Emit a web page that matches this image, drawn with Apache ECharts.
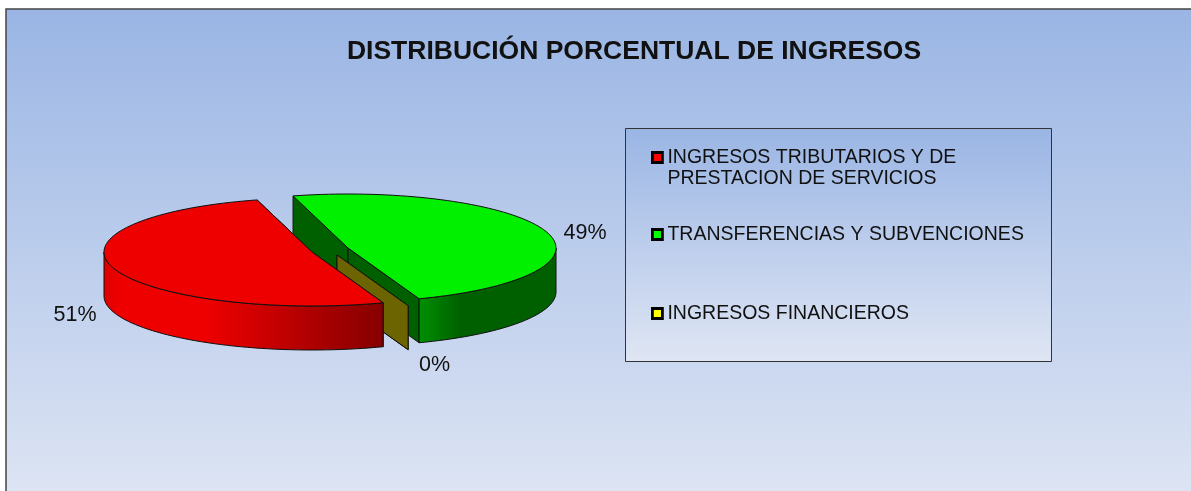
<!DOCTYPE html>
<html><head><meta charset="utf-8">
<style>html,body{margin:0;padding:0;background:#fff}#c{width:1191px;height:491px}</style>
<script src="https://cdn.jsdelivr.net/npm/echarts@6/dist/echarts.min.js"></script>
</head><body><div id="c"></div>
<script>
const titleText = 'DISTRIBUCIÓN PORCENTUAL DE INGRESOS';
const categories = ['INGRESOS TRIBUTARIOS Y DE\nPRESTACION DE SERVICIOS', 'TRANSFERENCIAS Y SUBVENCIONES', 'INGRESOS FINANCIEROS'];
const values = [51.3, 48.7, 0];
const labels = ['51%', '49%', '0%'];

const FONT = '"Liberation Sans", Arial, sans-serif';
const firstAngle = 160, A = 208, B = 54, DEPTH = 44;
const centres = [[312, 252], [348, 248], [337, 255]];
const labelPos = [[75, 315], [585, 233], [434.5, 365]];
const topCol = ['#ee0000', '#00f000', '#eeee00'];
const legendCol = ['#ff0000', '#00ff00', '#ffff00'];
const sideCol = ['#8a0000', '#006000', '#6b6400'];
const wallStops = [
  [[0, '#dd0000'], [0.05, '#ee0000'], [0.36, '#ee0000'], [0.55, '#d00000'], [0.73, '#b00000'], [1, '#860000']],
  [[0, '#009000'], [0.3, '#006000'], [1, '#006000']],
  [[0, '#6b6400'], [1, '#6b6400']]
];
const legendTops = [126, 224, 303];
const drawOrder = [1, 2, 0];

const total = values.reduce((s, v) => s + v, 0);
const startAngles = values.map((_, i) => firstAngle + values.slice(0, i).reduce((s, v) => s + v, 0) / total * 360);

function pt(i, deg, drop) {
  const r = deg * Math.PI / 180, c = centres[i];
  return [c[0] + A * Math.sin(r), c[1] - B * Math.cos(r) + (drop || 0)];
}
function arc(i, from, to, drop) {
  const out = [], n = Math.max(1, Math.ceil(Math.abs(to - from) / 2));
  for (let k = 0; k <= n; k++) out.push(pt(i, from + (to - from) * k / n, drop));
  return out;
}
const edge = { stroke: '#111', lineWidth: 1 };

function renderSlice(i, val) {
  const from = startAngles[i], to = from + val / total * 360;
  const c = centres[i], kids = [];
  const poly = (points, fill, z2) => kids.push({ type: 'polygon', z2, shape: { points }, style: Object.assign({ fill }, edge) });
  const radial = (ang, z2) => {
    const p = pt(i, ang);
    poly([c, p, [p[0], p[1] + DEPTH], [c[0], c[1] + DEPTH]], sideCol[i], z2);
  };
  radial(from, 1);
  radial(to, 1);
  // visible part of the outer rim: clock angles 90..270 (and +360)
  [[90, 270], [450, 630]].forEach(([lo, hi]) => {
    const s = Math.max(from, lo), e = Math.min(to, hi);
    if (e > s) {
      const top = arc(i, s, e, 0), bottom = arc(i, e, s, DEPTH);
      const xs = top.map(p => p[0]);
      poly(top.concat(bottom), {
        type: 'linear', global: true,
        x: Math.min(...xs), y: 0, x2: Math.max(...xs), y2: 0,
        colorStops: wallStops[i].map(([offset, color]) => ({ offset, color }))
      }, 2);
    }
  });
  if (to > from) poly([c].concat(arc(i, from, to, 0)), topCol[i], 3);
  kids.push({ type: 'text', z2: 4, style: { text: labels[i], x: labelPos[i][0], y: labelPos[i][1], align: 'center', verticalAlign: 'middle', font: '21.5px ' + FONT, fill: '#111' } });
  return { type: 'group', children: kids };
}

const series = categories.map((name, i) => ({
  type: 'custom',
  name,
  coordinateSystem: 'none',
  z: 2 + drawOrder.indexOf(i),
  silent: true,
  animation: false,
  itemStyle: { color: legendCol[i] },
  data: [[values[i]]],
  renderItem: (params, api) => renderSlice(i, api.value(0))
}));

const bg = (x, y, w, h, lw, stroke) => ({
  type: 'rect', shape: { x, y, width: w, height: h },
  style: {
    stroke, lineWidth: lw,
    fill: { type: 'linear', x: 0, y: 0, x2: 0, y2: 1, colorStops: [{ offset: 0, color: '#9ab5e4' }, { offset: 1, color: '#dfe6f4' }] }
  }
});

const chart = echarts.init(document.getElementById('c'), null, { renderer: 'canvas' });
chart.setOption({
  animation: false,
  title: { text: titleText, left: 629, textAlign: 'center', top: 33, textStyle: { fontFamily: FONT, fontSize: 26.5, fontWeight: 'bold', color: '#111' } },
  graphic: { elements: [bg(6, 9, 1200, 500, 1.5, '#444'), bg(625.5, 128.5, 426, 233, 1, '#333')] },
  legend: categories.map((name, i) => ({
    show: true, selectedMode: false, orient: 'vertical',
    left: 651, top: legendTops[i], padding: 0,
    itemWidth: 10, itemHeight: 10, icon: 'rect',
    data: [name],
    formatter: n => (n.includes('\n') ? '\n' : '') + n,
    itemStyle: { borderColor: '#000', borderWidth: 2.8 },
    textStyle: { fontFamily: FONT, fontSize: 19.5, lineHeight: 21, color: '#111' }
  })),
  series
});
</script></body></html>
